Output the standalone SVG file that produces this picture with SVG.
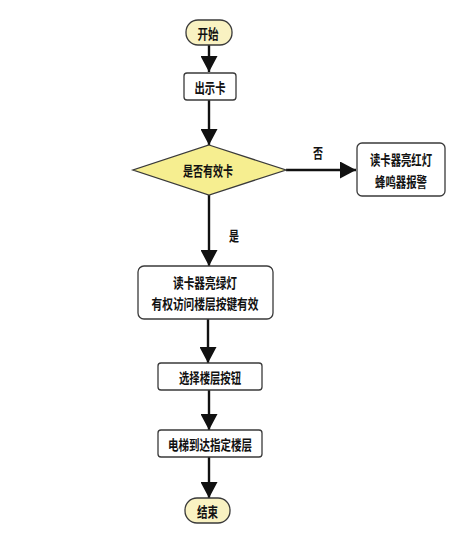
<svg xmlns="http://www.w3.org/2000/svg" width="476" height="548" viewBox="0 0 476 548">
<style>
.box{fill:#fff;stroke:#3a3a3a;stroke-width:1.3}
.term{fill:#f9f2c2;stroke:#3a3a3a;stroke-width:1.3}
.dia{fill:#f6ee90;stroke:#3a3a3a;stroke-width:1.3}
.t{font-family:"Noto Sans CJK SC","Noto Sans CJK JP",sans-serif;font-size:14px;font-weight:bold;fill:#111;text-anchor:middle;dominant-baseline:central}
.c{fill:none;stroke:#111;stroke-width:2.4}
</style>
<defs>
<marker id="ah" markerUnits="userSpaceOnUse" markerWidth="16" markerHeight="17" viewBox="0 0 16 17" refX="16" refY="8.5" orient="auto">
<path d="M0,0 L16,8.5 L0,17 Z" fill="#111"/>
</marker>
</defs>
<rect width="476" height="548" fill="#fff"/>
<g id="connectors">
<line class="c" x1="209" y1="45" x2="209" y2="72" marker-end="url(#ah)"/>
<line class="c" x1="209" y1="100" x2="209" y2="145" marker-end="url(#ah)"/>
<line class="c" x1="286" y1="170" x2="356" y2="170" marker-end="url(#ah)"/>
<line class="c" x1="209" y1="195" x2="209" y2="266" marker-end="url(#ah)"/>
<line class="c" x1="208" y1="319" x2="208" y2="363" marker-end="url(#ah)"/>
<line class="c" x1="209" y1="390" x2="209" y2="430" marker-end="url(#ah)"/>
<line class="c" x1="209" y1="457" x2="209" y2="498" marker-end="url(#ah)"/>
<text class="t" x="318" y="152" textLength="10" lengthAdjust="spacingAndGlyphs">否</text>
<text class="t" x="234" y="235" textLength="10" lengthAdjust="spacingAndGlyphs">是</text>
</g>
<g id="start">
<rect class="term" x="186" y="20" width="46" height="25" rx="12"/>
<text class="t" x="208" y="32.5" textLength="21" lengthAdjust="spacingAndGlyphs">开始</text>
</g>
<g id="show">
<rect class="box" x="184" y="73" width="52" height="27" rx="3"/>
<text class="t" x="210" y="86.5" textLength="31" lengthAdjust="spacingAndGlyphs">出示卡</text>
</g>
<g id="check">
<polygon class="dia" points="209,145 286,170 209,195 133,170"/>
<text class="t" x="208" y="170" textLength="50" lengthAdjust="spacingAndGlyphs">是否有效卡</text>
</g>
<g id="red">
<rect class="box" x="357" y="143" width="88" height="53" rx="5"/>
<text class="t" x="401" y="159" textLength="62" lengthAdjust="spacingAndGlyphs">读卡器亮红灯</text>
<text class="t" x="401" y="181" textLength="52" lengthAdjust="spacingAndGlyphs">蜂鸣器报警</text>
</g>
<g id="green">
<rect class="box" x="138" y="266" width="135" height="53" rx="6"/>
<text class="t" x="205" y="282" textLength="64" lengthAdjust="spacingAndGlyphs">读卡器亮绿灯</text>
<text class="t" x="205" y="303" textLength="107" lengthAdjust="spacingAndGlyphs">有权访问楼层按键有效</text>
</g>
<g id="select">
<rect class="box" x="158" y="363" width="104" height="27" rx="3"/>
<text class="t" x="210" y="376.5" textLength="62" lengthAdjust="spacingAndGlyphs">选择楼层按钮</text>
</g>
<g id="arrive">
<rect class="box" x="158" y="430" width="104" height="27" rx="3"/>
<text class="t" x="210" y="443.5" textLength="84" lengthAdjust="spacingAndGlyphs">电梯到达指定楼层</text>
</g>
<g id="end">
<rect class="term" x="185" y="498" width="45" height="25" rx="12"/>
<text class="t" x="207.5" y="510.5" textLength="21" lengthAdjust="spacingAndGlyphs">结束</text>
</g>
</svg>
